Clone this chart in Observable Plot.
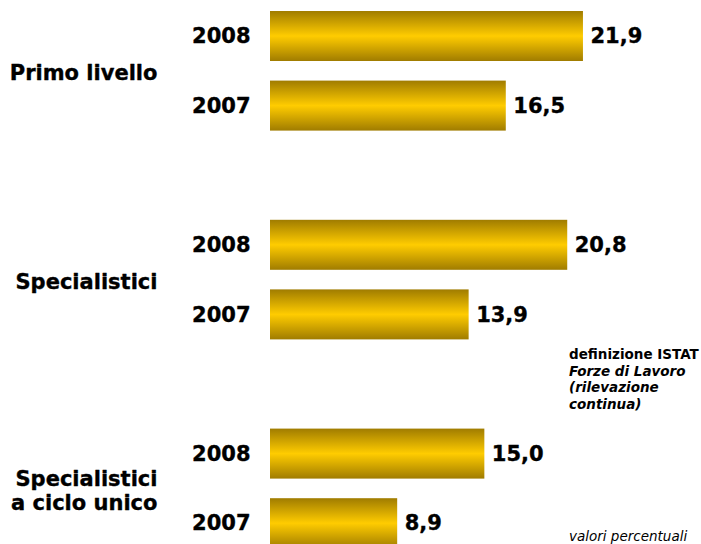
<!DOCTYPE html>
<html><head><meta charset="utf-8">
<script src="https://cdn.jsdelivr.net/npm/d3@7"></script>
<script src="https://cdn.jsdelivr.net/npm/@observablehq/plot@0.6"></script>
<style>
html,body{margin:0;padding:0;background:#fff;overflow:hidden;width:701px;height:544px;}
#wrap{position:relative;width:701px;height:544px;}
.note{position:absolute;left:569px;font-family:"DejaVu Sans",Verdana,sans-serif;font-size:13.5px;color:#000;line-height:16.5px;}
</style></head>
<body><div id="wrap"></div>
<script>
const groups = ["Primo livello", "Specialistici", "Specialistici\na ciclo unico"];
const years = ["2008", "2007"];
const values2008 = [21.9, 20.8, 15.0];
const values2007 = [16.5, 13.9, 8.9];

const rows = [];
const domain = [];
groups.forEach((g, i) => {
  years.forEach((yr) => {
    const key = g + "|" + yr;
    domain.push(key);
    rows.push({group: g, year: yr, key, value: yr === "2008" ? values2008[i] : values2007[i]});
  });
  if (i < groups.length - 1) domain.push("gap" + i);
});
const groupRows = groups.map((g) => ({group: g, key: g + "|2008"}));
const fmt = (v) => v.toFixed(1).replace(".", ",");
const font = '"DejaVu Sans", Verdana, sans-serif';
const txt = {fontSize: 21, fontWeight: "bold", fontFamily: font, fill: "#000", stroke: "#000", strokeWidth: 0.35};

const chart = Plot.plot({
  width: 701,
  height: 560,
  marginTop: 0, marginBottom: 0, marginLeft: 0, marginRight: 0,
  x: {domain: [0, 30], range: [270, 698.7], axis: null},
  y: {domain, range: [11, 548.2], paddingInner: 0.2816, paddingOuter: 0, round: false, axis: null},
  marks: [
    Plot.barX(rows, {x: "value", y: "key", fill: "url(#goldGrad)"}),
    Plot.text(rows, {x: 0, y: "key", text: "year", textAnchor: "end", dx: -20, ...txt}),
    Plot.text(rows, {x: "value", y: "key", text: (d) => fmt(d.value), textAnchor: "start", dx: 7, ...txt}),
    Plot.text(groupRows, {x: 0, y: "key", text: "group", textAnchor: "end", dx: -113, dy: 36, lineHeight: 1.15, ...txt})
  ]
});

const ns = "http://www.w3.org/2000/svg";
const defs = document.createElementNS(ns, "defs");
const grad = document.createElementNS(ns, "linearGradient");
grad.setAttribute("id", "goldGrad");
grad.setAttribute("x1", "0"); grad.setAttribute("y1", "0");
grad.setAttribute("x2", "0"); grad.setAttribute("y2", "1");
[["0", "#a07c00"], ["0.5", "#ffcc00"], ["1", "#a07c00"]].forEach(([o, c]) => {
  const s = document.createElementNS(ns, "stop");
  s.setAttribute("offset", o); s.setAttribute("stop-color", c);
  grad.appendChild(s);
});
defs.appendChild(grad);
chart.insertBefore(defs, chart.firstChild);

const wrap = document.getElementById("wrap");
chart.style.position = "absolute"; chart.style.left = "0"; chart.style.top = "0";
wrap.appendChild(chart);

const n1 = document.createElement("div");
n1.className = "note";
n1.style.top = "346px";
n1.innerHTML = '<b>definizione ISTAT</b><br><b><i>Forze di Lavoro<br>(rilevazione<br>continua)</i></b>';
wrap.appendChild(n1);
const n2 = document.createElement("div");
n2.className = "note";
n2.style.top = "528px";
n2.innerHTML = '<i>valori percentuali</i>';
wrap.appendChild(n2);
</script></body></html>
